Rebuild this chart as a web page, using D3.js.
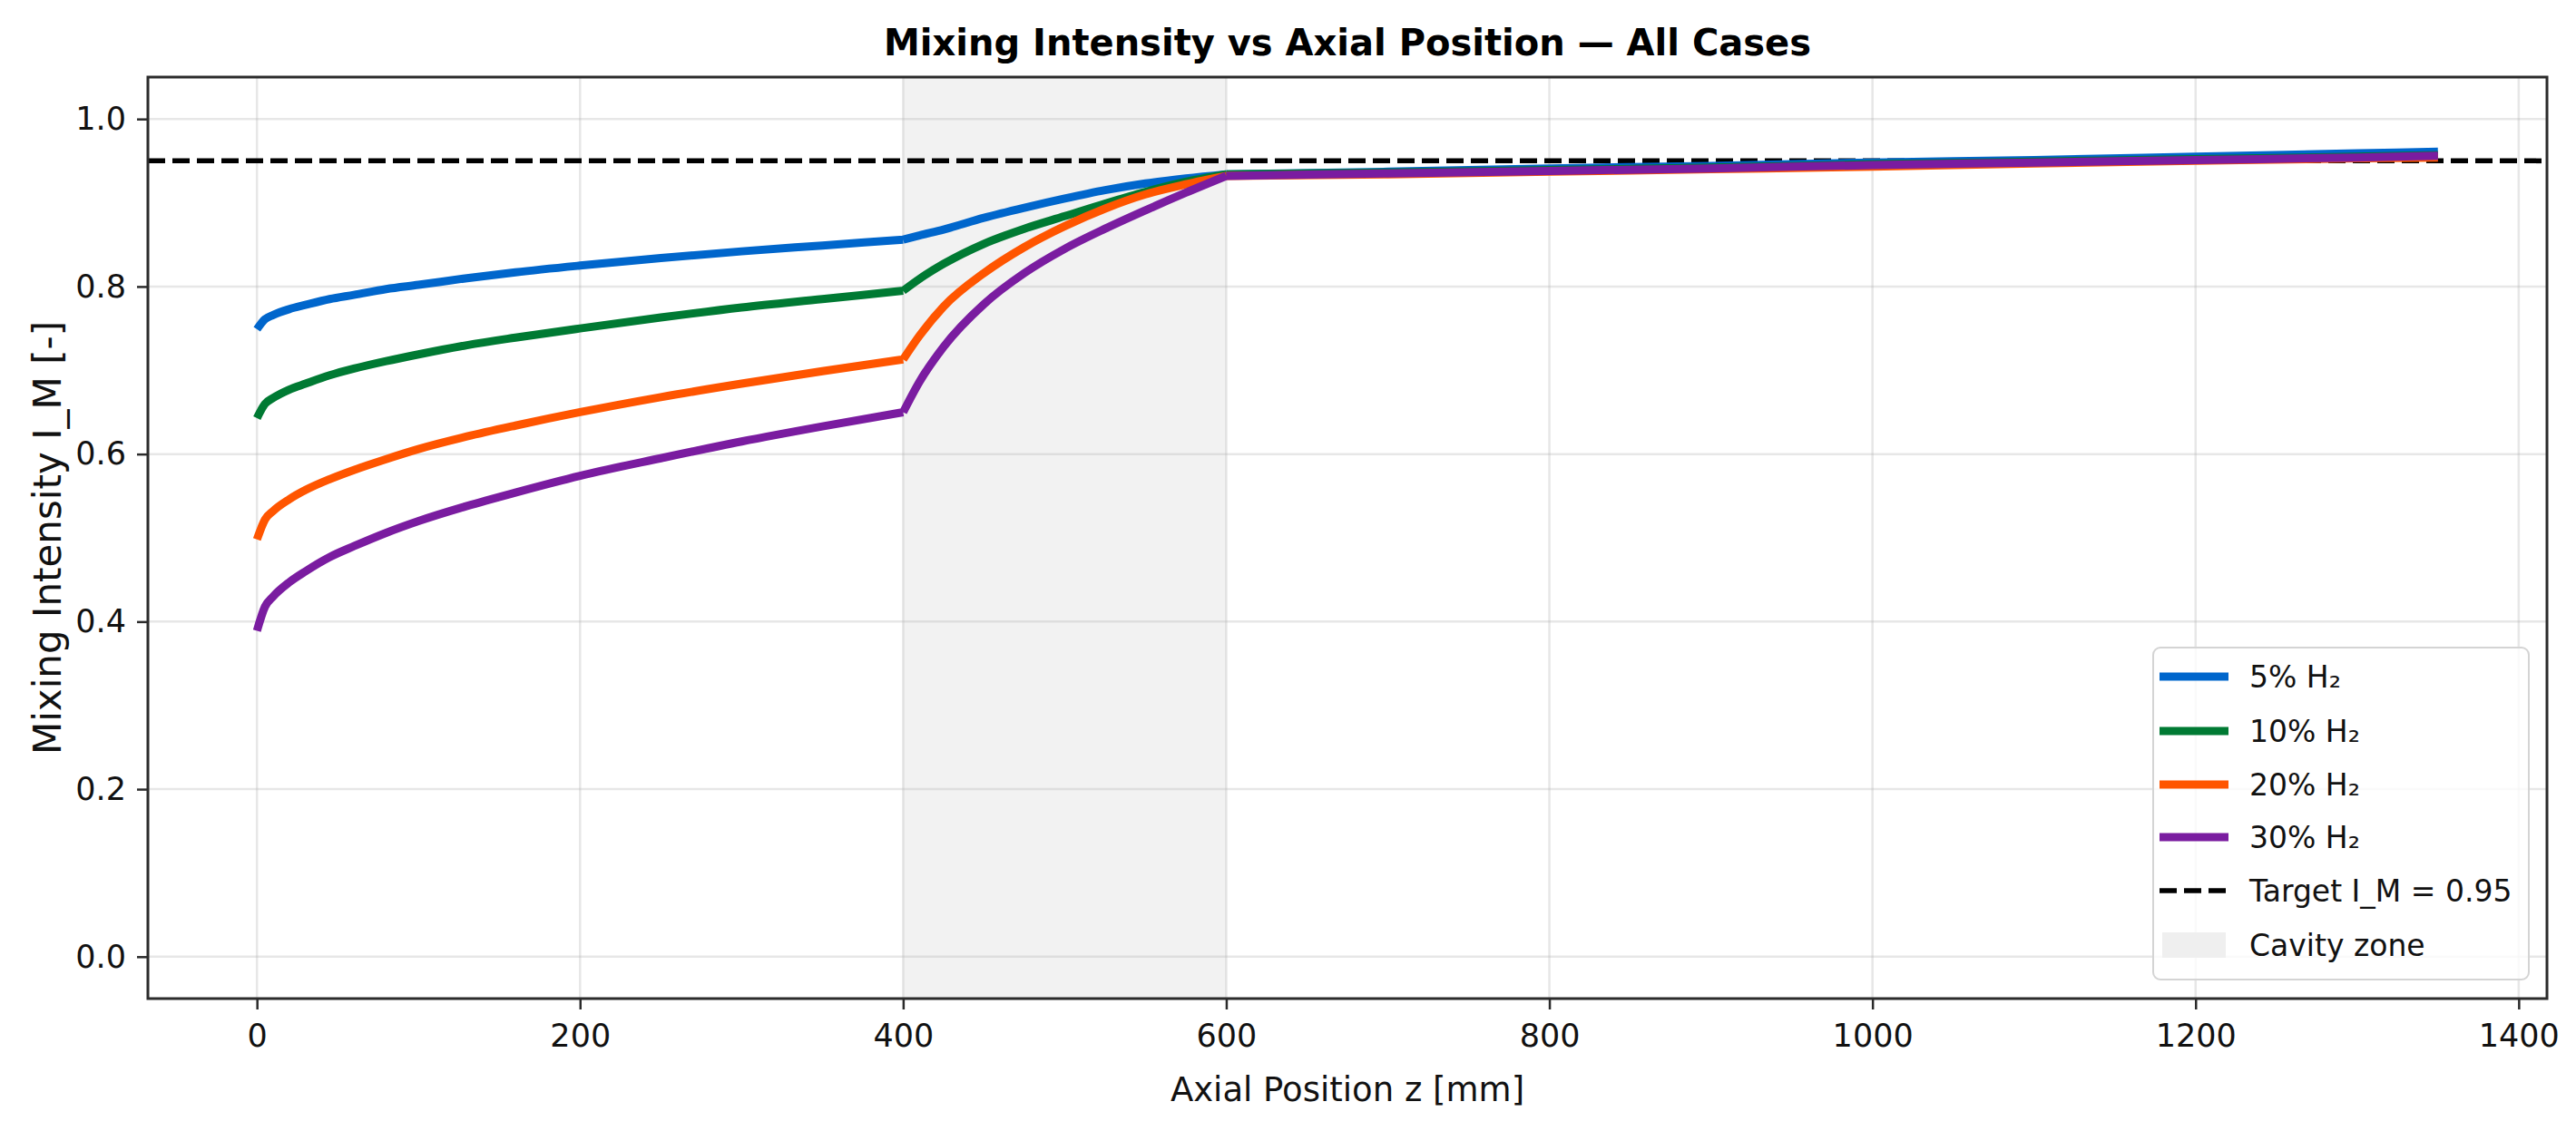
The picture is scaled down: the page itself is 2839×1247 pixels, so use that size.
<!DOCTYPE html>
<html>
<head>
<meta charset="utf-8">
<script src="https://cdn.jsdelivr.net/npm/d3@7"></script>
<style>
  body { margin: 0; background: #fff; }
  text { font-family: "DejaVu Sans", sans-serif; }
</style>
</head>
<body>
<div id="chart"></div>
<script>
// axial positions [mm] and mixing intensity per case
const zPos = [0, 5, 10, 20, 30, 45, 60, 80, 100, 130, 160, 200, 250, 300, 350, 400,
  410, 425, 450, 475, 500, 525, 550, 575, 600,
  700, 800, 900, 1000, 1100, 1200, 1300, 1350];

const h2_5 = [0.749, 0.761, 0.766, 0.773, 0.778, 0.785, 0.790, 0.797, 0.802, 0.810, 0.817, 0.825, 0.834, 0.842, 0.849, 0.856,
  0.861, 0.868, 0.882, 0.894, 0.905, 0.915, 0.923, 0.929, 0.934,
  0.937, 0.941, 0.944, 0.948, 0.951, 0.955, 0.959, 0.961];
const h2_10 = [0.643, 0.660, 0.667, 0.677, 0.684, 0.694, 0.702, 0.711, 0.719, 0.730, 0.739, 0.750, 0.763, 0.775, 0.785, 0.795,
  0.809, 0.827, 0.851, 0.869, 0.884, 0.899, 0.913, 0.925, 0.934,
  0.936, 0.939, 0.942, 0.946, 0.949, 0.952, 0.955, 0.957];
const h2_20 = [0.498, 0.522, 0.532, 0.546, 0.557, 0.570, 0.581, 0.594, 0.606, 0.621, 0.634, 0.650, 0.668, 0.684, 0.699, 0.713,
  0.741, 0.776, 0.816, 0.847, 0.872, 0.893, 0.910, 0.922, 0.932,
  0.934, 0.937, 0.940, 0.943, 0.947, 0.950, 0.953, 0.954];
const h2_30 = [0.389, 0.418, 0.430, 0.447, 0.460, 0.477, 0.490, 0.506, 0.520, 0.538, 0.554, 0.574, 0.595, 0.615, 0.633, 0.650,
  0.686, 0.728, 0.779, 0.816, 0.845, 0.869, 0.891, 0.912, 0.932,
  0.935, 0.938, 0.941, 0.945, 0.948, 0.951, 0.954, 0.956];

const seriesNames = ["5% H₂", "10% H₂", "20% H₂", "30% H₂"];
const seriesValues = [h2_5, h2_10, h2_20, h2_30];
const seriesColors = ["#0066cc", "#007a33", "#ff5500", "#7a1ca0"];

const xTicks = [0, 200, 400, 600, 800, 1000, 1200, 1400];
const yTicks = [0.0, 0.2, 0.4, 0.6, 0.8, 1.0];
const cavity = [400, 600];
const target = 0.95;
const targetLabel = "Target I_M = 0.95";
const cavityLabel = "Cavity zone";

// Abmessungen
const width = 2839;
const height = 1247;
const marginTop = 85;
const marginRight = 32;
const marginBottom = 146;
const marginLeft = 163;

const x = d3.scaleLinear()
  .domain([-67.5, 1417.5])
  .range([marginLeft, width - marginRight]);

const y = d3.scaleLinear()
  .domain([-0.05, 1.05])
  .range([height - marginBottom, marginTop]);

const svg = d3.select("#chart").append("svg")
  .attr("width", width)
  .attr("height", height)
  .attr("viewBox", [0, 0, width, height]);

svg.append("rect")
  .attr("width", width).attr("height", height).attr("fill", "#fff");

// Cavity-Bereich
svg.append("rect")
  .attr("x", x(cavity[0]))
  .attr("y", marginTop)
  .attr("width", x(cavity[1]) - x(cavity[0]))
  .attr("height", height - marginBottom - marginTop)
  .attr("fill", "#f2f2f2");

// Gitterlinien
svg.append("g")
  .attr("stroke", "#b0b0b0")
  .attr("stroke-opacity", 0.3)
  .attr("stroke-width", 2.5)
  .call(g => g.selectAll("line.gx")
    .data(xTicks)
    .join("line")
    .attr("class", "gx")
    .attr("x1", d => x(d)).attr("x2", d => x(d))
    .attr("y1", marginTop).attr("y2", height - marginBottom))
  .call(g => g.selectAll("line.gy")
    .data(yTicks)
    .join("line")
    .attr("class", "gy")
    .attr("y1", d => y(d)).attr("y2", d => y(d))
    .attr("x1", marginLeft).attr("x2", width - marginRight));

// Zielwert
svg.append("line")
  .attr("x1", marginLeft).attr("x2", width - marginRight)
  .attr("y1", y(target)).attr("y2", y(target))
  .attr("stroke", "#000")
  .attr("stroke-width", 5.5)
  .attr("stroke-dasharray", "19 8");

// Kurven: je Abschnitt glatt, Knicke bei 400 und 600 bleiben scharf
const breaks = [[0, 15], [15, 24], [24, 32]];
const line = d3.line()
  .x(d => x(d[0]))
  .y(d => y(d[1]))
  .curve(d3.curveMonotoneX);

const curves = svg.append("g")
  .attr("fill", "none")
  .attr("stroke-width", 9)
  .attr("stroke-linejoin", "round");

seriesValues.forEach((vals, i) => {
  const pts = vals.map((v, k) => [zPos[k], v]);
  const d = breaks.map(([a, b]) => line(pts.slice(a, b + 1))).join("");
  curves.append("path")
    .attr("stroke", seriesColors[i])
    .attr("d", d);
});

// Rahmen
svg.append("rect")
  .attr("x", marginLeft).attr("y", marginTop)
  .attr("width", width - marginRight - marginLeft)
  .attr("height", height - marginBottom - marginTop)
  .attr("fill", "none")
  .attr("stroke", "#2b2b2b")
  .attr("stroke-width", 3);

// Achsen
svg.append("g")
  .attr("transform", `translate(0,${height - marginBottom})`)
  .call(d3.axisBottom(x).tickValues(xTicks).tickFormat(d3.format("d")).tickSize(12).tickPadding(16))
  .call(g => g.select(".domain").remove())
  .call(g => g.selectAll(".tick line").attr("stroke", "#2b2b2b").attr("stroke-width", 2.5))
  .call(g => g.selectAll(".tick text").attr("fill", "#111").attr("font-size", 35)
    .attr("font-family", "DejaVu Sans"));

svg.append("g")
  .attr("transform", `translate(${marginLeft},0)`)
  .call(d3.axisLeft(y).tickValues(yTicks).tickFormat(d3.format(".1f")).tickSize(12).tickPadding(12))
  .call(g => g.select(".domain").remove())
  .call(g => g.selectAll(".tick line").attr("stroke", "#2b2b2b").attr("stroke-width", 2.5))
  .call(g => g.selectAll(".tick text").attr("fill", "#111").attr("font-size", 35)
    .attr("font-family", "DejaVu Sans"));

// Beschriftungen
svg.append("text")
  .attr("x", (marginLeft + width - marginRight) / 2)
  .attr("y", 61)
  .attr("text-anchor", "middle")
  .attr("font-size", 40)
  .attr("font-weight", "bold")
  .attr("fill", "#000")
  .text("Mixing Intensity vs Axial Position — All Cases");

svg.append("text")
  .attr("x", (marginLeft + width - marginRight) / 2)
  .attr("y", 1214)
  .attr("text-anchor", "middle")
  .attr("font-size", 37)
  .attr("fill", "#111")
  .text("Axial Position z [mm]");

svg.append("text")
  .attr("transform", `translate(67,${(marginTop + height - marginBottom) / 2}) rotate(-90)`)
  .attr("text-anchor", "middle")
  .attr("font-size", 42)
  .attr("fill", "#111")
  .text("Mixing Intensity I_M [-]");

// Legende
const legend = svg.append("g").attr("transform", "translate(2373,714)");
legend.append("rect")
  .attr("width", 414).attr("height", 366)
  .attr("rx", 8)
  .attr("fill", "#fff").attr("fill-opacity", 0.8)
  .attr("stroke", "#d4d4d4").attr("stroke-width", 2);

const rowY = [32, 92, 151, 209, 268, 328];
const items = seriesNames.map((name, i) => ({ name, color: seriesColors[i], type: "line" }))
  .concat([{ name: targetLabel, color: "#000", type: "dash" }, { name: cavityLabel, color: "#efefef", type: "patch" }]);

const row = legend.selectAll("g.row")
  .data(items)
  .join("g")
  .attr("transform", (d, i) => `translate(0,${rowY[i]})`);

row.filter(d => d.type !== "patch").append("line")
  .attr("x1", 7).attr("x2", 83)
  .attr("stroke", d => d.color)
  .attr("stroke-width", d => d.type === "dash" ? 5.5 : 9)
  .attr("stroke-dasharray", d => d.type === "dash" ? "19 8" : null);

row.filter(d => d.type === "patch").append("rect")
  .attr("x", 10).attr("y", -14).attr("width", 70).attr("height", 28)
  .attr("fill", d => d.color);

row.append("text")
  .attr("x", 106)
  .attr("y", 12)
  .attr("font-size", 33)
  .attr("fill", "#111")
  .text(d => d.name);
</script>
</body>
</html>
